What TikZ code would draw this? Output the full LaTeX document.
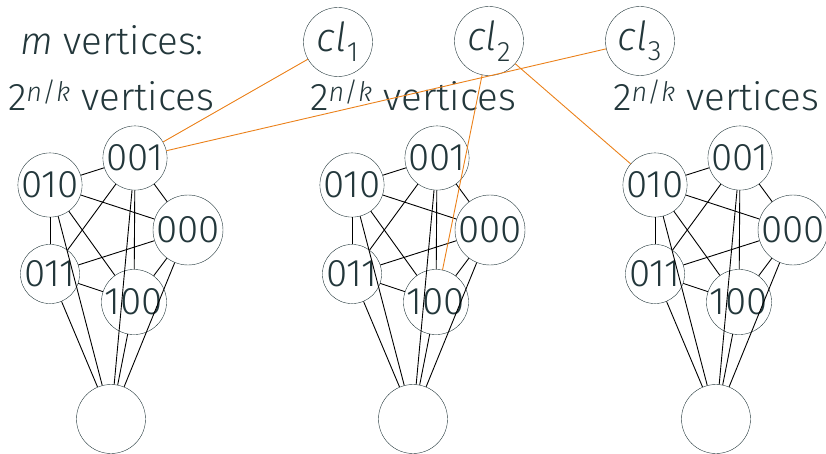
\documentclass[tikz,border=0pt]{standalone}
\usepackage{fontspec}
\setmainfont{Fira Sans}[UprightFont=* Light, ItalicFont=* Light Italic]
\usetikzlibrary{positioning}

\definecolor{mDarkTeal}{HTML}{23373B}
\definecolor{mLightBrown}{HTML}{EB811B}

\tikzset{
  vtx/.style={draw=mDarkTeal, circle, inner sep=0.5pt, text=mDarkTeal,
    font=\fontsize{38.5}{42}\selectfont},
  sink/.style={draw=mDarkTeal, circle, minimum size=69pt},
  clause/.style={draw=mDarkTeal, circle, minimum size=69pt, inner sep=0pt,
    text=mDarkTeal, font=\fontsize{40}{44}\selectfont},
  lbl/.style={anchor=base, text=mDarkTeal, font=\fontsize{38.5}{42}\selectfont},
  edge/.style={draw=black, line width=0.9pt},
  hit/.style={draw=mLightBrown, line width=0.9pt}
}

\begin{document}
\begin{tikzpicture}[x=1pt, y=-1pt]
    \useasboundingbox (0,0) rectangle (826,454);

    % clause vertices
    \node [clause] (cl1) at (338,42) {\textit{cl}\textsubscript{1}};
    \node [clause] (cl2) at (489,41) {\textit{cl}\textsubscript{2}};
    \node [clause] (cl3) at (640,41) {\textit{cl}\textsubscript{3}};

    \node [lbl] (title) at (112,55) {\textit{m} vertices:};

    % one clique gadget per block
    \foreach \g/\dx in {1/0, 2/302, 3/605} {
      \begin{scope}[xshift=\dx]
        \node [lbl] (size\g) at (111,111) {2\textsuperscript{\textit{n}/\textit{k}} vertices};
        \node [vtx] (g\g-001) at (135,158) {001};
        \node [vtx] (g\g-010) at (50,185) {010};
        \node [vtx] (g\g-000) at (188,230) {000};
        \node [vtx] (g\g-011) at (50,274) {011};
        \node [vtx] (g\g-100) at (134,302) {100};
        \node [sink] (g\g-b) at (111,419) {};
      \end{scope}
      \foreach \u/\v in {010/001, 010/000, 010/011, 010/100, 001/011,
                         001/100, 001/000, 000/011, 000/100, 011/100} {
        \draw [edge] (g\g-\u) -- (g\g-\v);
      }
      \foreach \u in {010, 001, 000, 011, 100} {
        \draw [edge] (g\g-\u) -- (g\g-b);
      }
    }

    % clause to gadget links
    \draw [hit] (cl1) -- (g1-001);
    \draw [hit] (cl3) -- (g1-001);
    \draw [hit] (cl2) -- (g2-100);
    \draw [hit] (cl2) -- (g3-010);
\end{tikzpicture}
\end{document}
